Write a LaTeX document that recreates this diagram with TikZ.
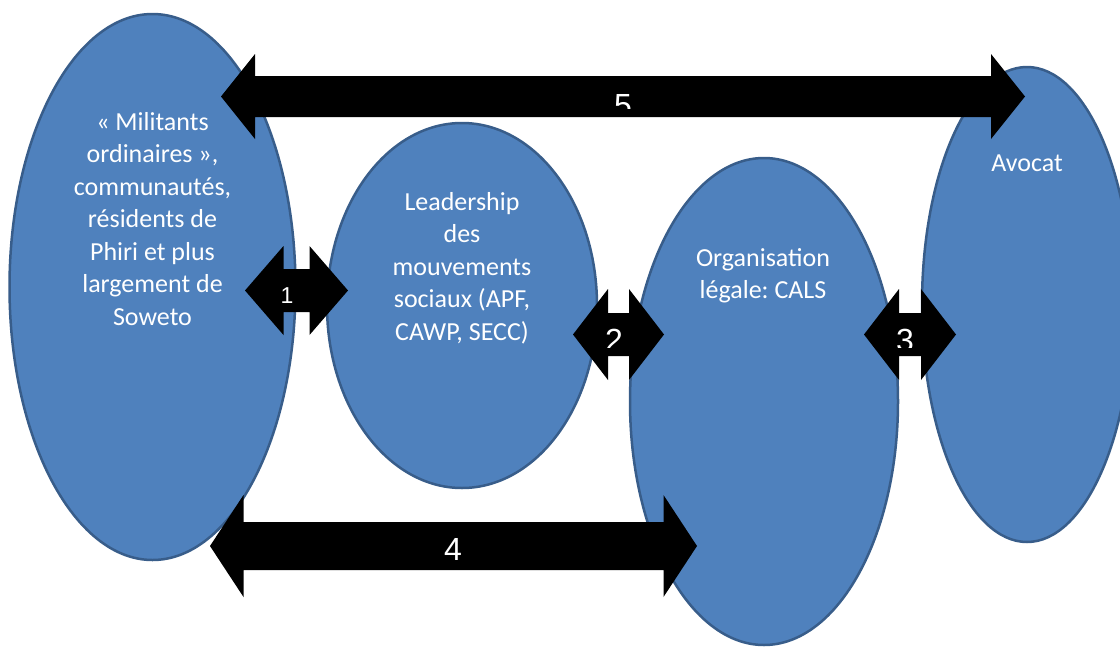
\documentclass[tikz,border=0pt]{standalone}
\usepackage{fontspec}
\newfontfamily\carlito{Carlito}
\newfontfamily\arialf{Liberation Sans}
\usetikzlibrary{shapes.geometric,calc}
\frenchspacing
\definecolor{ellfill}{HTML}{4F81BD}
\definecolor{elldraw}{HTML}{385D8A}
\tikzset{
  bubble/.style={ellipse, fill=ellfill, draw=elldraw, line width=2.5pt, inner sep=0pt, outer sep=0pt},
  bubbletext/.style={text=white, align=center, inner sep=0pt, anchor=north, font=\carlito\fontsize{26}{32.5}\selectfont},
  blockarrow/.style={fill=black},
  numlabel/.style={text=white, inner sep=0pt, anchor=base, font=\arialf\fontsize{32}{36}\selectfont},
}
\newcommand\dblarrow[5]{%
  \fill[blockarrow] (#1) -- ($(#1)+(#3,-#5)$) -- ($(#1)+(#3,-#4)$) -- ($(#2)+(-#3,-#4)$) -- ($(#2)+(-#3,-#5)$) -- (#2)
    -- ($(#2)+(-#3,#5)$) -- ($(#2)+(-#3,#4)$) -- ($(#1)+(#3,#4)$) -- ($(#1)+(#3,#5)$) -- cycle;}
\begin{document}
\begin{tikzpicture}[x=1pt,y=-1pt]
\useasboundingbox[fill=white] (0,0) rectangle (1120,646);
% ellipses
\node[bubble, minimum width=286pt, minimum height=546pt] (e1) at (152.5,287) {};
\node[bubble, minimum width=270pt, minimum height=365pt] (e2) at (462,305.5) {};
\node[bubble, minimum width=268pt, minimum height=487pt] (e3) at (764,401.5) {};
\node[bubble, minimum width=210pt, minimum height=475pt] (e4) at (1027,304.5) {};
% texts
\node[bubbletext] (t1) at (152.5,110) {\rule{0pt}{20pt}«~Militants\\ordinaires~»,\\communautés,\\résidents de\\Phiri et plus\\largement de\\Soweto};
\node[bubbletext] (t2) at (462,190) {\rule{0pt}{20pt}Leadership\\des\\mouvements\\sociaux (APF,\\CAWP, SECC)};
\node[bubbletext] (t3) at (763,246) {\rule{0pt}{20pt}Organisation\\légale: CALS};
\node[bubbletext] (t4) at (1027,151.5) {\rule{0pt}{20pt}Avocat};
% arrow end points
\coordinate (a1w) at (245,290.5); \coordinate (a1e) at (348,290.5);
\coordinate (a2w) at (573,334.5); \coordinate (a2e) at (664,334.5);
\coordinate (a3w) at (864,334.5); \coordinate (a3e) at (956,334.5);
\coordinate (a4w) at (210,546);   \coordinate (a4e) at (697,546);
\coordinate (a5w) at (221,96.5);  \coordinate (a5e) at (1025,96.5);
% arrows
\dblarrow{a5w}{a5e}{34}{20.5}{42.5}
\dblarrow{a1w}{a1e}{38.5}{21.5}{44.5}
\dblarrow{a2w}{a2e}{35}{21.5}{45.5}
\dblarrow{a3w}{a3e}{35}{21.5}{45.5}
\dblarrow{a4w}{a4e}{33.5}{24}{51}
% numbers
\node[numlabel, font=\arialf\fontsize{23}{26}\selectfont] (n1) at (287,303) {1};
\node[numlabel] (n4) at (453,560) {4};
\begin{scope}
  \clip (0,0) rectangle (1120,108);
  \node[numlabel] (n5) at (623,116) {5};
\end{scope}
\begin{scope}
  \clip (0,0) rectangle (1120,347.5);
  \node[numlabel] (n2) at (614,351) {2};
  \node[numlabel] (n3) at (905,351) {3};
\end{scope}
\end{tikzpicture}
\end{document}
